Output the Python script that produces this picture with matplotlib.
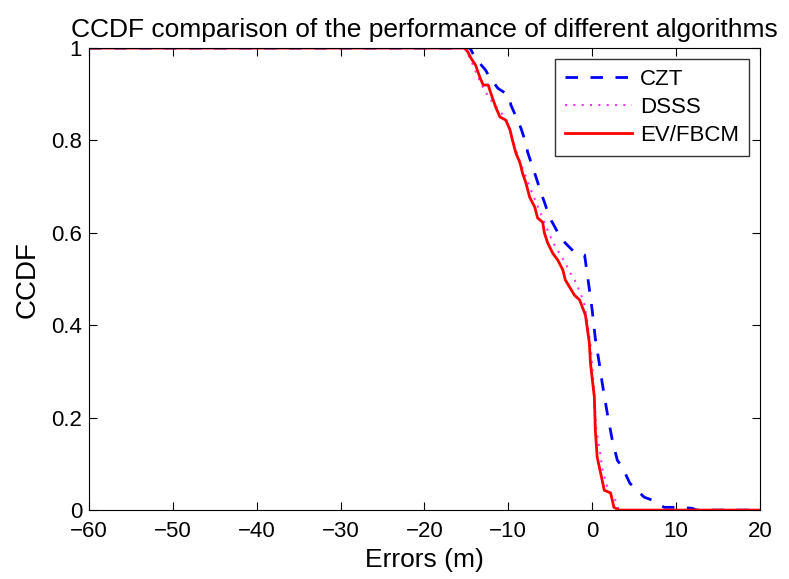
import numpy as np
import matplotlib.pyplot as plt

# --- data (error in m, CCDF) ---
czt_x = [-60, -14.6, -14.45, -14.0, -12.7, -12.4, -11.25, -10.4, -9.8, -9.7, -8.9, -8.5,
         -7.9, -7.7, -7.1, -6.7, -6.1, -5.7, -5.1, -4.7, -3.8, -3.2, -2.0, -0.9, -0.6,
         -0.2, 0.0, 0.4, 0.85, 1.2, 1.8, 2.4, 3.0, 3.6, 4.5, 5.1, 6.2, 7.1, 8.6, 10.1,
         11.9, 12.5, 20]
czt_y = [1, 1, 0.996, 0.98, 0.952, 0.942, 0.913, 0.903, 0.892, 0.877, 0.844, 0.827,
         0.794, 0.775, 0.742, 0.721, 0.686, 0.667, 0.634, 0.621, 0.591, 0.578, 0.556, 0.552, 0.513,
         0.461, 0.433, 0.368, 0.318, 0.275, 0.21, 0.152, 0.108, 0.093, 0.058, 0.048, 0.028, 0.022, 0.006, 0.006,
         0.004, 0, 0]

dsss_x = [-60, -15.3, -14.55, -13.3, -12.3, -10.3, -8.9, -7.3, -5.7, -4.7, -3.2, -2.6,
          -2.1, -1.4, -0.9, -0.6, -0.2, 0.15, 0.5, 1.0, 1.2, 1.8, 2.75, 3.1, 3.7, 20]
dsss_y = [1, 1, 0.978, 0.924, 0.892, 0.848, 0.768, 0.693, 0.623, 0.58, 0.535, 0.513,
          0.498, 0.47, 0.444, 0.41, 0.357, 0.28, 0.173, 0.119, 0.09, 0.05, 0.022, 0.004, 0, 0]

ev_x = [-60, -15.2, -14.8, -14.45, -13.9, -13.4, -13.0, -12.4, -12.1, -11.5, -11.0, -10.3,
        -9.8, -9.5, -9.1, -8.6, -8.3, -7.9, -7.45, -6.85, -6.5, -5.9, -5.7, -5.3, -4.7,
        -4.1, -3.5, -3.2, -2.1, -1.5, -0.8, -0.33, -0.2, 0.26, 0.38, 0.6, 1.45, 2.2, 2.6, 3.2, 20]
ev_y = [1, 1, 0.991, 0.978, 0.963, 0.937, 0.92, 0.92, 0.903, 0.872, 0.851, 0.844,
        0.823, 0.80, 0.773, 0.751, 0.729, 0.708, 0.677, 0.656, 0.632, 0.623, 0.60, 0.578, 0.556,
        0.541, 0.52, 0.498, 0.465, 0.455, 0.422, 0.361, 0.318, 0.245, 0.173, 0.115, 0.043, 0.037, 0.006, 0, 0]

xticks = [-60, -50, -40, -30, -20, -10, 0, 10, 20]
yticks = [0, 0.2, 0.4, 0.6, 0.8, 1]
ytick_labels = ["0", "0.2", "0.4", "0.6", "0.8", "1"]

plt.rcParams['font.family'] = ['Liberation Sans', 'DejaVu Sans']

fig = plt.figure(figsize=(7.89, 5.79), dpi=100)
ax = fig.add_axes([0.113, 0.119, 0.85, 0.798])

ax.plot(czt_x, czt_y, color='blue', linestyle=(0, (4.5, 4.5)), lw=2, label='CZT')
ax.plot(dsss_x, dsss_y, color='#ff33ff', linestyle=(0, (1, 3)), lw=1.5, label='DSSS')
ax.plot(ev_x, ev_y, color='red', lw=2, label='EV/FBCM')

ax.set_xlim(-60, 20)
ax.set_ylim(0, 1)
ax.set_xticks(xticks)
ax.set_xticklabels([str(t).replace('-', '\u2212') for t in xticks])
ax.set_yticks(yticks)
ax.set_yticklabels(ytick_labels)
ax.tick_params(direction='in', top=True, right=True, labelsize=16, length=6)
ax.tick_params(axis='x', pad=8)
ax.tick_params(axis='y', pad=5)
ax.set_xlabel('Errors (m)', fontsize=19, labelpad=4)
ax.set_ylabel('CCDF', fontsize=20, labelpad=8)
ax.set_title('CCDF comparison of the performance of different algorithms', fontsize=19, pad=8)

leg = ax.legend(loc='upper right', fontsize=16, fancybox=False, edgecolor='black',
                handlelength=3, handletextpad=0.35, borderaxespad=0.5, labelspacing=0.3,
                borderpad=0.45)
leg.get_frame().set_linewidth(1)

fig.savefig('out.png', dpi=100)
